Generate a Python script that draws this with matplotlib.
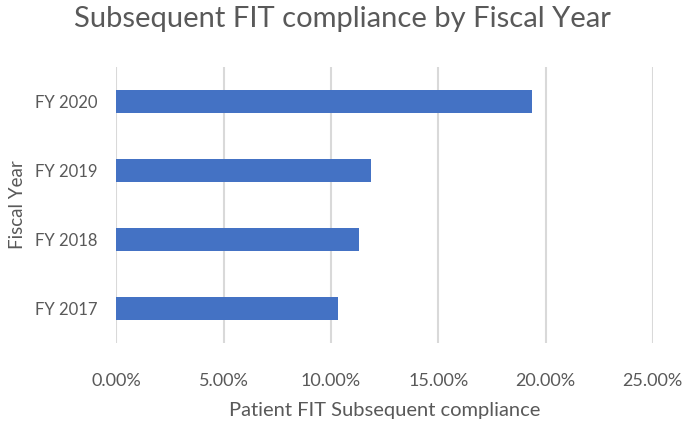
import matplotlib
matplotlib.use('Agg')
import matplotlib.pyplot as plt
from matplotlib.ticker import PercentFormatter

# data
years = ["FY 2017", "FY 2018", "FY 2019", "FY 2020"]
compliance = [10.31, 11.31, 11.88, 19.37]

plt.rcParams['font.family'] = ['Lato', 'DejaVu Sans']
grey = '#595959'

fig = plt.figure(figsize=(6.85, 4.26), dpi=100)
ax = fig.add_axes([0.170, 0.195, 0.783, 0.647])

ax.barh(range(len(years)), compliance, height=0.33, color='#4472C4', zorder=3)

ax.set_xlim(0, 25)
ax.set_ylim(-0.5, len(years) - 0.5)
ax.set_xticks([0, 5, 10, 15, 20, 25])
ax.xaxis.set_major_formatter(PercentFormatter(decimals=2))
ax.set_yticks(range(len(years)))
ax.set_yticklabels(years)

ax.grid(axis='x', color='#d9d9d9', linewidth=1.5, zorder=0)
for s in ax.spines.values():
    s.set_visible(False)
ax.tick_params(axis='both', length=0, labelcolor=grey)
ax.tick_params(axis='x', pad=22, labelsize=13)
ax.tick_params(axis='y', pad=14, labelsize=12)

ax.set_xlabel("Patient FIT Subsequent compliance", fontsize=14.5, color=grey, labelpad=9)
ax.set_ylabel("Fiscal Year", fontsize=13.5, color=grey, labelpad=6)
fig.suptitle("Subsequent FIT compliance by Fiscal Year", fontsize=21, color=grey, y=0.985)

plt.savefig('out.png', dpi=100)
